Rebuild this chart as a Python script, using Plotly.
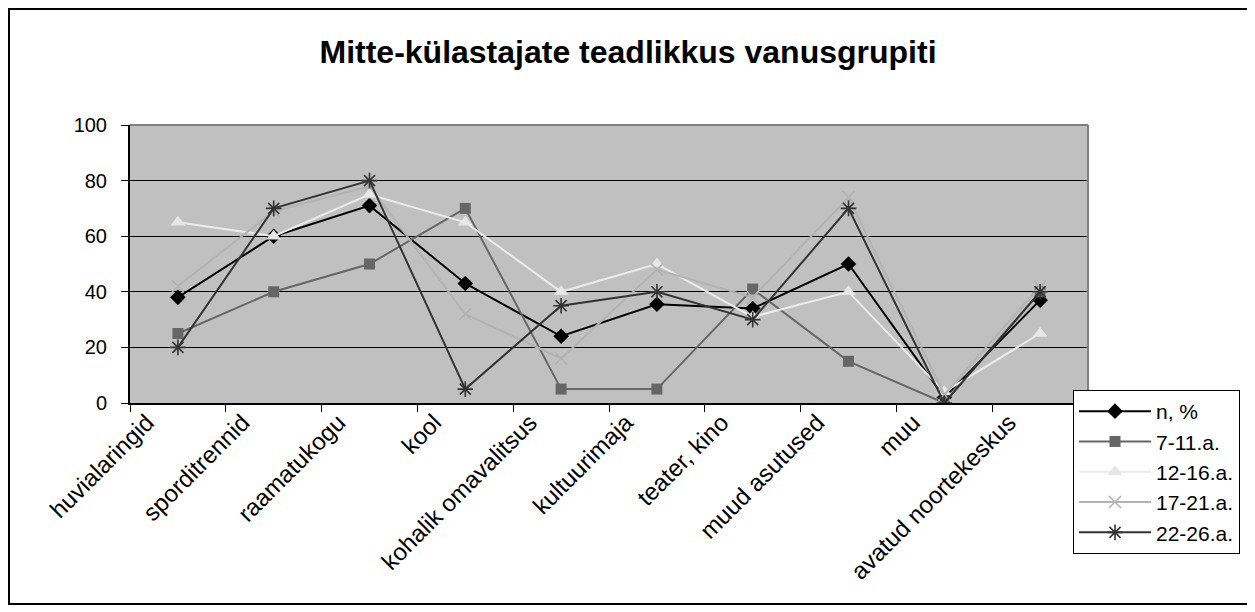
import plotly.graph_objects as go

categories = ["huvialaringid", "sporditrennid", "raamatukogu", "kool", "kohalik omavalitsus",
              "kultuurimaja", "teater, kino", "muud asutused", "muu", "avatud noortekeskus"]

n_pct = [38, 60, 71, 43, 24, 35.5, 34, 50, 2, 37]
age_7_11 = [25, 40, 50, 70, 5, 5, 41, 15, 0, 40]
age_12_16 = [65, 60, 75, 65, 40, 50, 31, 40, 4, 25]
age_17_21 = [42, 69, 78, 32, 16, 48, 38, 74, 3, 42]
age_22_26 = [20, 70, 80, 5, 35, 40, 30, 70, 0, 40]

series_names = ["n, %", "7-11.a.", "12-16.a.", "17-21.a.", "22-26.a."]
y_ticks = [0, 20, 40, 60, 80, 100]

# page body margin offset (browser default)
OFF = 8
# plot area in reference-page pixels
L, R, T, B = 130, 1088, 125, 403
W, H = 1255 - OFF, 612 - OFF
pw, ph = R - L, B - T


def px(xp):
    return (xp - L) / pw


def py(yp):
    return (B - yp) / ph


styles = [
    dict(color="#000000", symbol="diamond", size=12, lc="#000000"),
    dict(color="#666666", symbol="square", size=11, lc="#666666"),
    dict(color="#e6e6e6", symbol="triangle-up", size=13, lc="#ebebeb"),
    dict(color="#b3b3b3", symbol="x-thin-open", size=12, lc="#b3b3b3"),
    dict(color="#333333", symbol="asterisk-open", size=13, lc="#333333"),
]
data = [n_pct, age_7_11, age_12_16, age_17_21, age_22_26]

fig = go.Figure()
for name, vals, st in zip(series_names, data, styles):
    marker = dict(symbol=st["symbol"], size=st["size"], color=st["color"])
    if "open" in st["symbol"]:
        marker["line"] = dict(color=st["color"], width=1.6)
    else:
        marker["line"] = dict(width=0)
    fig.add_trace(go.Scatter(
        x=categories, y=vals, name=name, mode="lines+markers",
        line=dict(color=st["lc"], width=2), marker=marker, legendgroup=name,
    ))

font = "Liberation Sans, Arial, sans-serif"

fig.update_layout(
    width=W, height=H,
    margin=dict(l=L - OFF, r=1255 - R, t=T - OFF, b=612 - B),
    paper_bgcolor="white",
    plot_bgcolor="#c0c0c0",
    font=dict(family=font, color="black", size=20),
    title=dict(text="<b>Mitte-külastajate teadlikkus vanusgrupiti</b>",
               x=(628 - OFF) / W, xanchor="center", xref="container",
               y=1 - (52 - OFF) / H, yanchor="middle", yref="container",
               font=dict(family=font, size=32, color="black")),
    xaxis=dict(type="category", range=[-0.5, 9.5], tickson="boundaries",
               ticks="outside", ticklen=7, tickcolor="black", tickwidth=1,
               showline=True, linecolor="black", linewidth=2, showgrid=False,
               tickangle=-45, tickfont=dict(size=24), ticklabelshift=-31,
               ticklabelstandoff=-6),
    yaxis=dict(range=[0, 100], tickvals=y_ticks, ticks="outside", ticklen=7,
               tickcolor="black", showline=True, linecolor="black", linewidth=2,
               showgrid=True, gridcolor="black", gridwidth=1, zeroline=False,
               tickfont=dict(size=20), ticklabelstandoff=10),
    legend=dict(x=px(1073), y=py(390), xanchor="left", yanchor="top",
                bgcolor="white", bordercolor="black", borderwidth=1,
                font=dict(size=21), tracegroupgap=1, traceorder="normal",
                itemwidth=72),
    shapes=[
        dict(type="line", xref="paper", yref="paper", x0=0, x1=1, y0=1, y1=1,
             line=dict(color="#808080", width=2), layer="above"),
        dict(type="line", xref="paper", yref="paper", x0=1, x1=1, y0=0, y1=1,
             line=dict(color="#808080", width=2), layer="above"),
        dict(type="rect", xref="paper", yref="paper",
             x0=px(9), x1=px(1251), y0=py(604), y1=py(9),
             line=dict(color="black", width=2), layer="below"),
    ],
)

fig.write_html("out.html")
